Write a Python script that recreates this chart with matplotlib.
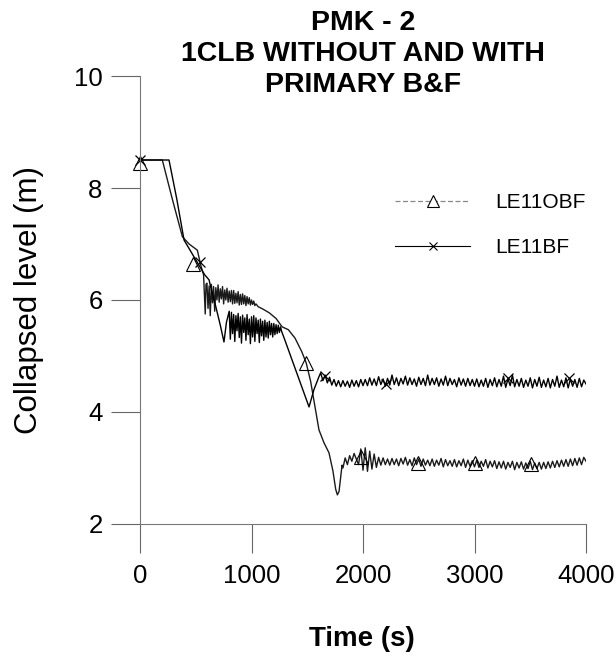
import numpy as np
import matplotlib
matplotlib.use("Agg")
import matplotlib.pyplot as plt
from matplotlib.lines import Line2D

plt.rcParams["font.family"] = ["Liberation Sans", "DejaVu Sans"]

# ---- LE11OBF (without primary B&F) ----
obf_head_t = [0, 200, 290, 380, 440, 514, 545, 570, 585, 592]
obf_head_v = [8.50, 8.50, 7.80, 7.13, 7.00, 6.89, 6.62, 6.45, 5.75, 6.28]

# noisy band, sampled every 10 s from 600 s to 1040 s
obf_band_v = [6.30, 5.85, 6.25, 5.72, 6.28, 5.95, 6.24, 5.80, 6.22, 6.00,
              6.27, 5.96, 6.20, 6.02, 6.24, 5.93, 6.18, 6.00, 6.21, 5.96,
              6.16, 5.97, 6.17, 5.93, 6.17, 5.94, 6.12, 5.95, 6.15, 5.91,
              6.10, 5.92, 6.11, 5.93, 6.08, 5.90, 6.06, 5.93, 6.04, 5.91,
              6.00, 5.92, 5.98, 5.90, 5.93]

obf_mid_t = [1060, 1100, 1160, 1220, 1275, 1330, 1390, 1450, 1490, 1530,
             1560, 1605, 1650, 1695, 1730, 1755, 1770, 1785, 1800, 1812]
obf_mid_v = [5.88, 5.84, 5.77, 5.67, 5.52, 5.47, 5.32, 5.08, 4.88, 4.55,
             4.20, 3.68, 3.45, 3.27, 2.95, 2.62, 2.52, 2.58, 2.85, 3.05]

# quasi-steady part, sampled every 20 s from 1820 s to 4000 s
obf_tail_v = [3.00, 3.18, 3.06, 3.22, 3.12, 3.26, 3.16, 3.06, 3.34, 2.96,
              3.36, 2.94, 3.30, 2.98, 3.25, 3.01, 3.19, 3.05, 3.18, 3.06,
              3.16, 3.05, 3.17, 3.06, 3.16, 3.04, 3.17, 3.07, 3.19, 3.05,
              3.15, 3.04, 3.18, 3.06, 3.16, 3.03, 3.16, 3.05, 3.14, 3.04,
              3.16, 3.03, 3.14, 3.05, 3.17, 3.02, 3.15, 3.04, 3.13, 3.03,
              3.15, 3.02, 3.13, 3.04, 3.16, 3.01, 3.14, 3.03, 3.13, 3.02,
              3.14, 3.01, 3.12, 3.03, 3.15, 3.00, 3.12, 3.02, 3.13, 2.99,
              3.11, 3.00, 3.12, 2.98, 3.10, 3.01, 3.12, 2.97, 3.10, 3.00,
              3.11, 2.98, 3.09, 2.99, 3.12, 2.97, 3.09, 2.99, 3.10, 2.98,
              3.10, 2.99, 3.11, 3.00, 3.12, 3.01, 3.13, 3.02, 3.14, 3.03,
              3.15, 3.03, 3.16, 3.04, 3.17, 3.05, 3.18, 3.06, 3.19, 3.12]

obf_mark_t = [0, 475, 1490, 1985, 2497, 3000, 3507]
obf_mark_v = [8.45, 6.64, 4.87, 3.20, 3.09, 3.09, 3.08]

# ---- LE11BF (with primary B&F) ----
bf_head_t = [0, 260, 330, 395, 460, 529, 580, 619, 650, 680, 720, 753, 775]
bf_head_v = [8.50, 8.50, 7.80, 7.07, 6.85, 6.62, 6.45, 6.36, 6.10, 5.88, 5.55, 5.25, 5.60]

# noisy band, every 10 s from 800 s to 1270 s
bf_band_v = [5.80, 5.30, 5.78, 5.40, 5.74, 5.26, 5.72, 5.45, 5.76, 5.33,
             5.70, 5.23, 5.73, 5.42, 5.68, 5.28, 5.74, 5.38, 5.66, 5.22,
             5.70, 5.34, 5.72, 5.26, 5.68, 5.40, 5.64, 5.24, 5.66, 5.36,
             5.62, 5.28, 5.64, 5.34, 5.60, 5.32, 5.62, 5.38, 5.58, 5.34,
             5.58, 5.38, 5.56, 5.40, 5.55, 5.42, 5.52, 5.44]

bf_mid_t = [1300, 1400, 1516, 1560, 1605]
bf_mid_v = [5.28, 4.73, 4.09, 4.40, 4.63]

# every 20 s from 1620 s to 4000 s
bf_tail_v = [4.70, 4.56, 4.66, 4.52, 4.62, 4.48, 4.58, 4.46, 4.56, 4.45,
             4.56, 4.46, 4.55, 4.44, 4.57, 4.46, 4.56, 4.45, 4.58, 4.47,
             4.58, 4.47, 4.61, 4.48, 4.59, 4.47, 4.63, 4.49, 4.59, 4.46,
             4.60, 4.48, 4.66, 4.49, 4.61, 4.47, 4.60, 4.50, 4.64, 4.48,
             4.61, 4.49, 4.59, 4.46, 4.62, 4.49, 4.60, 4.47, 4.66, 4.48,
             4.60, 4.49, 4.61, 4.46, 4.59, 4.48, 4.64, 4.47, 4.60, 4.49,
             4.58, 4.45, 4.61, 4.48, 4.59, 4.46, 4.60, 4.47, 4.58, 4.46,
             4.59, 4.45, 4.57, 4.46, 4.60, 4.44, 4.58, 4.47, 4.61, 4.45,
             4.58, 4.46, 4.64, 4.44, 4.59, 4.47, 4.66, 4.45, 4.58, 4.46,
             4.60, 4.44, 4.57, 4.46, 4.61, 4.43, 4.58, 4.46, 4.62, 4.44,
             4.57, 4.45, 4.60, 4.43, 4.58, 4.46, 4.64, 4.44, 4.57, 4.45,
             4.61, 4.43, 4.59, 4.46, 4.58, 4.44, 4.60, 4.45, 4.57, 4.50]

bf_mark_t = [0, 540, 1660, 2210, 3300, 3850]
bf_mark_v = [8.50, 6.68, 4.64, 4.50, 4.60, 4.60]

x_ticks = [0, 1000, 2000, 3000, 4000]
y_ticks = [2, 4, 6, 8, 10]

# ---- assemble series ----
obf_t = np.concatenate([obf_head_t, np.arange(600, 1041, 10), obf_mid_t, np.arange(1820, 4001, 20)])
obf_v = np.concatenate([obf_head_v, obf_band_v, obf_mid_v, obf_tail_v])
bf_t = np.concatenate([bf_head_t, np.arange(800, 1271, 10), bf_mid_t, np.arange(1620, 4001, 20)])
bf_v = np.concatenate([bf_head_v, bf_band_v, bf_mid_v, bf_tail_v])

fig = plt.figure(figsize=(6.16, 6.61), dpi=100)
ax = fig.add_axes([0.2273, 0.2073, 0.7240, 0.6777])

ax.plot(obf_t, obf_v, color="#1a1a1a", lw=1.0)
ax.plot(bf_t, bf_v, color="black", lw=1.0)
ax.plot(obf_mark_t, obf_mark_v, ls="none", marker="^", ms=10, mfc="none",
        mec="black", mew=0.8, clip_on=False)
ax.plot(bf_mark_t, bf_mark_v, ls="none", marker="x", ms=7, mec="black",
        mew=0.9, clip_on=False)

ax.set_xlim(0, 4000)
ax.set_ylim(2, 10)
ax.set_xticks(x_ticks)
ax.set_yticks(y_ticks)

for side in ["top", "right"]:
    ax.spines[side].set_visible(False)
for side in ["left", "bottom"]:
    ax.spines[side].set_color("#777777")
    ax.spines[side].set_linewidth(0.8)

ax.tick_params(axis="both", direction="out", length=21, width=0.8,
               color="#666666", labelsize=18.5)
ax.tick_params(axis="x", pad=8)
ax.tick_params(axis="y", pad=6)

ax.set_ylabel("Collapsed level (m)", fontsize=22.5)
ax.yaxis.set_label_coords(-0.215, 0.5)
ax.set_xlabel("Time (s)", fontsize=20, fontweight="bold")
ax.xaxis.set_label_coords(0.497, -0.228)

fig.text(0.589, 0.919, "PMK - 2\n1CLB WITHOUT AND WITH\nPRIMARY B&F",
         ha="center", va="center", fontsize=20.5, fontweight="bold",
         linespacing=1.25)

handles = [
    Line2D([], [], color="#888888", lw=0.9, ls=(0, (4, 2)), marker="^", ms=8,
           mfc="white", mec="black", mew=0.8),
    Line2D([], [], color="black", lw=0.8, marker="x", ms=6, mec="black", mew=0.8),
]
ax.legend(handles, ["LE11OBF", "LE11BF"], loc="upper left",
          bbox_to_anchor=(0.572, 0.738), frameon=False, fontsize=15,
          handlelength=3.6, handletextpad=1.2, labelspacing=1.25,
          borderpad=0, borderaxespad=0)

fig.savefig("out.png", dpi=100)
